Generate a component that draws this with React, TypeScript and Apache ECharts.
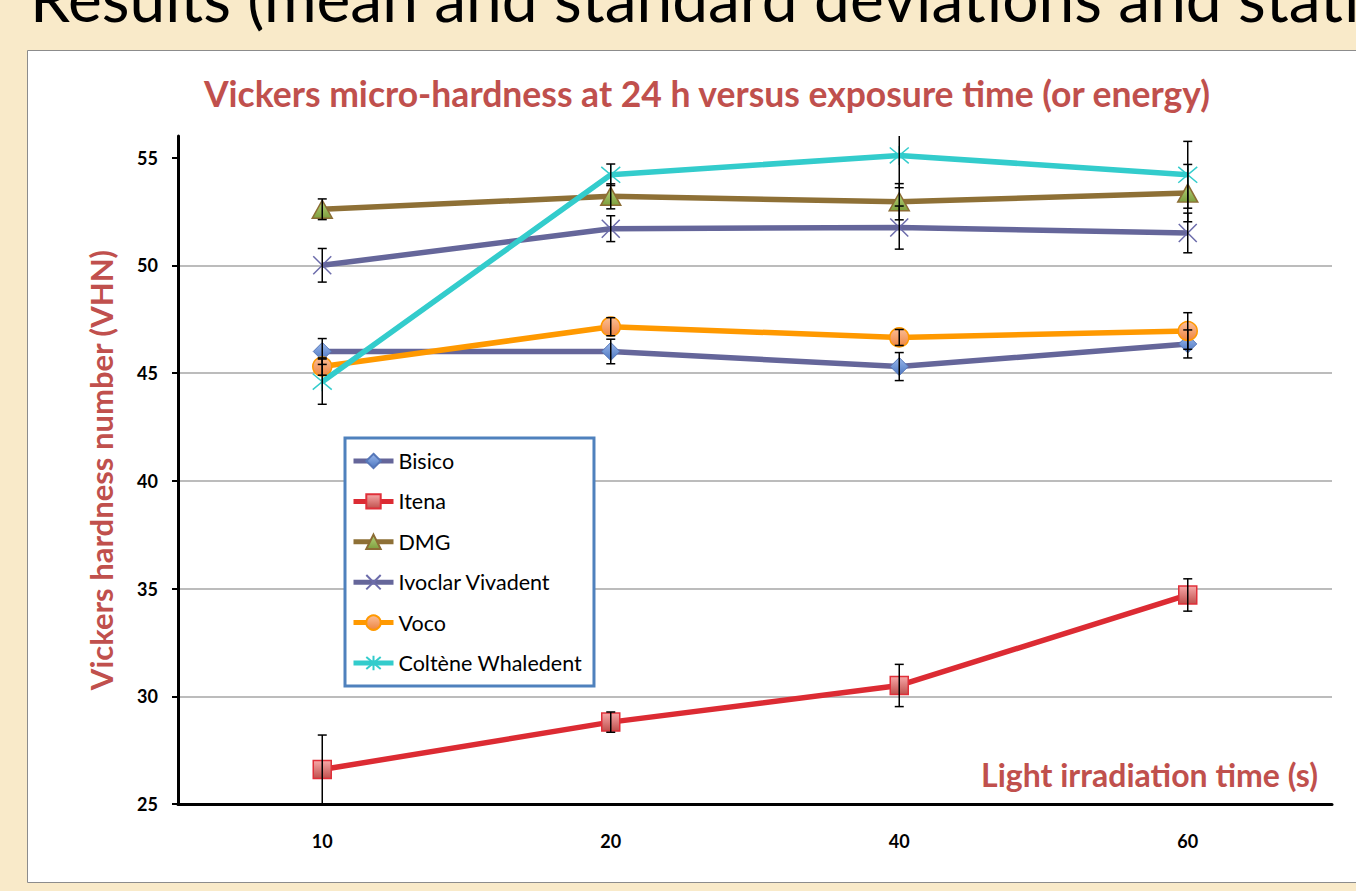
import React, { useEffect, useRef } from "react";
import * as echarts from "echarts";

// ---------- data ----------
const categories = ["10", "20", "40", "60"];
const seriesNames = ["Bisico", "Itena", "DMG", "Ivoclar Vivadent", "Voco", "Coltène Whaledent"];

const bisicoMean = [46.0, 46.0, 45.3, 46.35];
const bisicoSd = [0.6, 0.57, 0.65, 0.65];
const itenaMean = [26.6, 28.8, 30.5, 34.7];
const itenaSd = [1.6, 0.47, 0.98, 0.75];
const dmgMean = [52.6, 53.2, 52.95, 53.35];
const dmgSd = [0.48, 0.58, 0.84, 1.33];
const ivoclarMean = [50.0, 51.7, 51.75, 51.5];
const ivoclarSd = [0.78, 0.6, 1.0, 0.92];
const vocoMean = [45.3, 47.15, 46.65, 46.95];
const vocoSd = [0.4, 0.42, 0.37, 0.85];
const colteneMean = [44.6, 54.2, 55.1, 54.2];
const colteneSd = [1.05, 0.5, 1.5, 1.55];

const yTicks = [25, 30, 35, 40, 45, 50, 55];
const yMin = 25;
const yMax = 56;

const chartTitle = "Vickers micro-hardness at 24 h versus exposure time (or energy)";
const yAxisTitle = "Vickers hardness number (VHN)";
const xAxisTitle = "Light irradiation time (s)";
const slideHeading = "Results (mean and standard deviations and statistics)";

const FONT = "Lato, 'Noto Sans', sans-serif";
const RED = "#C0504D";

const grad = (top: string, bottom: string) => ({
  type: "linear",
  x: 0,
  y: 0,
  x2: 0,
  y2: 1,
  colorStops: [
    { offset: 0, color: top },
    { offset: 1, color: bottom },
  ],
});

const X_PATH = "path://M0,0L10,10M10,0L0,10";
const STAR_PATH = "path://M0,0L10,10M10,0L0,10M5,-1L5,11";

const seriesStyles = [
  { line: "#65669A", symbol: "diamond", size: 18, item: { color: grad("#9AB8EC", "#4C76C0"), borderColor: "#5677B8", borderWidth: 1 } },
  { line: "#DC2B33", symbol: "rect", size: 18, item: { color: grad("#F7A8A8", "#C0504D"), borderColor: "#E0303A", borderWidth: 1.5 } },
  { line: "#8E7036", symbol: "triangle", size: [20, 18], item: { color: grad("#B7D47C", "#7E9F3E"), borderColor: "#8C6D35", borderWidth: 1.5 } },
  { line: "#65669A", symbol: X_PATH, size: 18, item: { color: "rgba(0,0,0,0)", borderColor: "#6B6BAA", borderWidth: 1.5 } },
  { line: "#FF9900", symbol: "circle", size: 19, item: { color: grad("#FBBE98", "#EE8540"), borderColor: "#FF9900", borderWidth: 1.5 } },
  { line: "#33CCCC", symbol: STAR_PATH, size: 19, item: { color: "rgba(0,0,0,0)", borderColor: "#33CCCC", borderWidth: 1.5 } },
];

const means = [bisicoMean, itenaMean, dmgMean, ivoclarMean, vocoMean, colteneMean];
const sds = [bisicoSd, itenaSd, dmgSd, ivoclarSd, vocoSd, colteneSd];

export default function App() {
  const ref = useRef<HTMLDivElement>(null);

  useEffect(() => {
    if (!ref.current) return;
    const chart = echarts.init(ref.current, undefined, { renderer: "svg" });

    const lineSeries = seriesNames.map((name, i) => ({
      name,
      type: "line",
      data: means[i],
      symbol: seriesStyles[i].symbol,
      symbolSize: seriesStyles[i].size,
      showAllSymbol: true,
      lineStyle: { color: seriesStyles[i].line, width: 5.5 },
      itemStyle: seriesStyles[i].item,
      z: 2 + i,
      emphasis: { disabled: true },
    }));

    const errData: number[][] = [];
    means.forEach((m, i) => {
      m.forEach((v, j) => {
        errData.push([j, v - sds[i][j], v + sds[i][j]]);
      });
    });

    const errSeries = {
      type: "custom",
      name: "error",
      z: 20,
      data: errData,
      silent: true,
      renderItem: (params: any, api: any) => {
        const x = api.value(0);
        const lo = api.value(1);
        const hi = api.value(2);
        const loC = Math.max(lo, yMin);
        const hiC = Math.min(hi, yMax);
        const pLo = api.coord([x, loC]);
        const pHi = api.coord([x, hiC]);
        const style = { stroke: "#000", lineWidth: 1.5 };
        const children: any[] = [
          { type: "line", shape: { x1: pLo[0], y1: pLo[1], x2: pHi[0], y2: pHi[1] }, style },
        ];
        const cap = 4.5;
        if (hi <= yMax) children.push({ type: "line", shape: { x1: pHi[0] - cap, y1: pHi[1], x2: pHi[0] + cap, y2: pHi[1] }, style });
        if (lo >= yMin) children.push({ type: "line", shape: { x1: pLo[0] - cap, y1: pLo[1], x2: pLo[0] + cap, y2: pLo[1] }, style });
        return { type: "group", children };
      },
    };

    chart.setOption({
      animation: false,
      backgroundColor: "#F9EAC9",
      textStyle: { fontFamily: FONT },
      graphic: [
        {
          type: "text",
          x: 30,
          y: 29,
          z: 0,
          style: {
            text: slideHeading,
            font: `64px ${FONT}`,
            fill: "#000",
            verticalAlign: "bottom",
          },
        },
        {
          type: "rect",
          z: -10,
          shape: { x: 27.5, y: 50.5, width: 1340, height: 832 },
          style: { fill: "#fff", stroke: "#8C8C8C", lineWidth: 1 },
        },
      ],
      title: {
        text: chartTitle,
        left: 702,
        textAlign: "center",
        top: 70,
        textStyle: { fontFamily: FONT, fontSize: 35.5, fontWeight: "bold", color: RED },
      },
      legend: {
        data: seriesNames,
        orient: "vertical",
        left: 345,
        top: 438,
        backgroundColor: "#fff",
        borderColor: "#4F81BD",
        borderWidth: 3,
        padding: [12, 12, 12, 6],
        itemWidth: 40,
        itemHeight: 18,
        itemGap: 18.4,
        lineStyle: { width: 5 },
        textStyle: { fontFamily: FONT, fontSize: 21.5, lineHeight: 18, color: "#000" },
        selectedMode: false,
      },
      grid: { left: 178, right: 24, top: 136, bottom: 87, containLabel: false },
      xAxis: {
        type: "category",
        data: categories,
        boundaryGap: true,
        axisLine: { lineStyle: { color: "#000", width: 3 } },
        axisTick: { show: false },
        axisLabel: { margin: 28, fontFamily: FONT, fontSize: 18, fontWeight: "bold", color: "#000" },
        name: xAxisTitle,
        nameLocation: "end",
        nameGap: -14,
        nameTextStyle: {
          fontFamily: FONT,
          fontSize: 32,
          fontWeight: "bold",
          color: RED,
          align: "right",
          verticalAlign: "bottom",
          padding: [0, 0, 14, 0],
        },
      },
      yAxis: {
        type: "value",
        min: yMin,
        max: yMax,
        interval: 5,
        axisLine: { show: true, lineStyle: { color: "#000", width: 3 } },
        axisTick: { show: true, length: 6, lineStyle: { color: "#000", width: 2 }, customValues: yTicks },
        axisLabel: { margin: 20, fontFamily: FONT, fontSize: 18, fontWeight: "bold", color: "#000", customValues: yTicks },
        splitLine: { show: true, showMaxLine: false, lineStyle: { color: "#A6A6A6", width: 1.5 } },
        name: yAxisTitle,
        nameLocation: "middle",
        nameGap: 62,
        nameRotate: 90,
        nameTextStyle: { fontFamily: FONT, fontSize: 31, fontWeight: "bold", color: RED },
      },
      series: [...lineSeries, errSeries],
    });

    return () => chart.dispose();
  }, []);

  return (
    <div
      ref={ref}
      style={{ position: "fixed", left: 0, top: 0, width: 1356, height: 891 }}
    />
  );
}
